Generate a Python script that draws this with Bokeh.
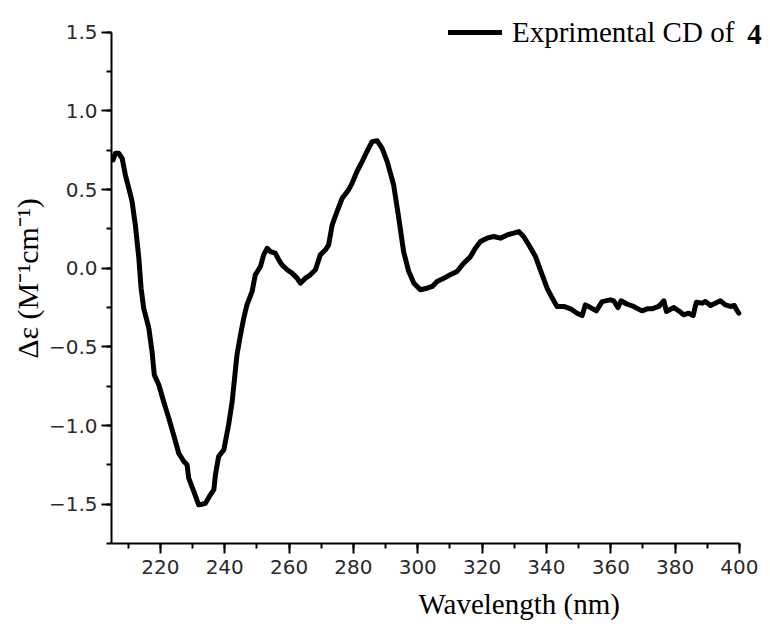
from bokeh.plotting import figure
from bokeh.models import (Range1d, SingleIntervalTicker, Title, Label, Legend,
                          LegendItem, ColumnDataSource)
from bokeh.embed import file_html
from bokeh.resources import INLINE

# ---- data ----
wavelength = [205.3, 206.0, 207.0, 208.1, 209.1, 210.7, 211.2, 212.2, 213.3, 214.0,
              214.8, 216.4, 217.4, 218.1, 219.5, 221.0, 222.6, 224.1, 225.7, 227.3,
              228.3, 228.8, 230.4, 231.9, 233.0, 234.0, 235.5, 236.6, 237.1, 238.1,
              239.7, 241.2, 242.3, 243.3, 243.8, 244.9, 245.9, 246.9, 248.5, 249.5,
              251.1, 252.1, 253.2, 254.2, 255.7, 256.8, 257.8, 259.4, 260.9, 262.5,
              263.5, 265.1, 266.6, 268.2, 269.7, 271.3, 272.3, 273.4, 274.9, 276.5,
              278.5, 279.6, 281.1, 282.7, 284.2, 285.8, 287.4, 288.9, 290.5, 292.5,
              294.1, 295.6, 297.2, 298.8, 300.8, 302.9, 304.5, 306.0, 308.1, 310.1,
              312.2, 314.3, 316.4, 317.9, 319.5, 321.5, 323.6, 325.7, 327.8, 329.8,
              331.4, 332.9, 334.5, 336.6, 338.1, 340.2, 341.8, 343.3, 345.4, 347.5,
              349.5, 351.1, 352.1, 353.7, 355.5, 357.3, 359.9, 360.9, 362.2, 363.2,
              365.1, 367.1, 369.7, 371.3, 372.8, 374.9, 376.5, 377.3, 379.6, 381.1,
              382.7, 384.2, 385.6, 386.6, 388.4, 389.4, 391.0, 392.5, 394.1, 395.6,
              397.2, 398.4, 399.1, 399.8]

delta_eps = [0.689, 0.731, 0.731, 0.699, 0.594, 0.466, 0.424, 0.276, 0.064, -0.127,
             -0.254, -0.381, -0.530, -0.678, -0.741, -0.847, -0.953, -1.059, -1.176, -1.229,
             -1.250, -1.335, -1.420, -1.504, -1.500, -1.494, -1.441, -1.409, -1.314, -1.197,
             -1.155, -0.996, -0.850, -0.650, -0.551, -0.424, -0.318, -0.233, -0.148, -0.042,
             0.011, 0.085, 0.127, 0.106, 0.096, 0.053, 0.021, -0.010, -0.031, -0.063,
             -0.095, -0.063, -0.042, -0.010, 0.085, 0.117, 0.149, 0.276, 0.360, 0.445,
             0.498, 0.541, 0.615, 0.678, 0.742, 0.805, 0.810, 0.763, 0.678, 0.530,
             0.318, 0.106, -0.021, -0.095, -0.137, -0.127, -0.116, -0.084, -0.063, -0.042,
             -0.021, 0.032, 0.074, 0.127, 0.170, 0.191, 0.202, 0.191, 0.212, 0.223,
             0.233, 0.202, 0.149, 0.074, -0.010, -0.127, -0.190, -0.243, -0.243, -0.258,
             -0.286, -0.301, -0.233, -0.250, -0.271, -0.212, -0.201, -0.207, -0.250, -0.207,
             -0.229, -0.243, -0.271, -0.258, -0.258, -0.243, -0.207, -0.275, -0.250, -0.271,
             -0.296, -0.286, -0.301, -0.216, -0.222, -0.212, -0.237, -0.222, -0.207, -0.233,
             -0.243, -0.237, -0.265, -0.286]

x_ticks = [220, 240, 260, 280, 300, 320, 340, 360, 380, 400]
x_tick_labels = ["220", "240", "260", "280", "300", "320", "340", "360", "380", "400"]
y_ticks = [-1.5, -1.0, -0.5, 0.0, 0.5, 1.0, 1.5]
y_tick_labels = ["\u22121.5", "\u22121.0", "\u22120.5", "0.0", "0.5", "1.0", "1.5"]

series_label = "Exprimental CD of"
compound_label = "4"
x_label = "Wavelength (nm)"
y_label = "\u0394\u03b5 (M\u207b\u00b9cm\u207b\u00b9)"

SERIF = "Liberation Serif"
SANS = "DejaVu Sans"

p = figure(width=770, height=633, output_backend="svg", toolbar_location=None,
           x_range=Range1d(204.8, 409.65), y_range=Range1d(-1.75, 1.6194),
           min_border_left=111, min_border_right=0, min_border_top=13,
           min_border_bottom=90)
p.outline_line_color = None
p.background_fill_color = "white"
p.border_fill_color = "white"
p.xgrid.visible = False
p.ygrid.visible = False

src = ColumnDataSource(dict(x=wavelength, y=delta_eps))
r = p.line("x", "y", source=src, line_color="black", line_width=5,
           line_join="round", line_cap="round")

# axes
for ax in (p.xaxis[0], p.yaxis[0]):
    ax.axis_line_width = 2
    ax.axis_line_color = "black"
    ax.major_tick_line_width = 2
    ax.minor_tick_line_width = 2
    ax.major_tick_line_color = "black"
    ax.minor_tick_line_color = "black"
    ax.major_tick_out = 10
    ax.major_tick_in = 0
    ax.minor_tick_out = 5
    ax.minor_tick_in = 0
    ax.major_label_text_font = SANS
    ax.major_label_text_font_size = "20px"
    ax.major_label_text_color = "#2a2a2a"

p.xaxis.ticker = SingleIntervalTicker(interval=20, num_minor_ticks=2)
p.xaxis.bounds = (204.8, 400)
p.xaxis.major_label_overrides = dict(zip(x_ticks, x_tick_labels))
p.xaxis.major_label_standoff = 6

p.yaxis.ticker = SingleIntervalTicker(interval=0.5, num_minor_ticks=2)
p.yaxis.bounds = (-1.75, 1.5)
p.yaxis.major_label_overrides = dict(zip(y_ticks, y_tick_labels))
p.yaxis.major_label_standoff = 4
p.yaxis.axis_label = y_label
p.yaxis.axis_label_text_font = SERIF
p.yaxis.axis_label_text_font_size = "30px"
p.yaxis.axis_label_text_font_style = "normal"
p.yaxis.axis_label_text_color = "black"
p.yaxis.axis_label_standoff = 2

# x-axis title placed like the reference (right of centre)
p.add_layout(Title(text=x_label, align="left", offset=307, standoff=18,
                   text_font=SERIF, text_font_size="29px",
                   text_font_style="normal", text_color="black"), "below")

# legend
legend = Legend(items=[LegendItem(label=series_label, renderers=[r])],
                location=(337, 494), glyph_width=54, glyph_height=34,
                label_standoff=10, padding=0, margin=0, spacing=0,
                label_text_font=SERIF, label_text_font_size="29px",
                label_text_color="black", border_line_color=None,
                background_fill_alpha=0)
p.add_layout(legend)
p.add_layout(Label(x=402.4, y=1.484, text=compound_label, text_font=SERIF,
                   text_font_size="29px", text_font_style="bold",
                   text_baseline="middle", text_color="black"))

open("out.html", "w").write(file_html(p, INLINE))
